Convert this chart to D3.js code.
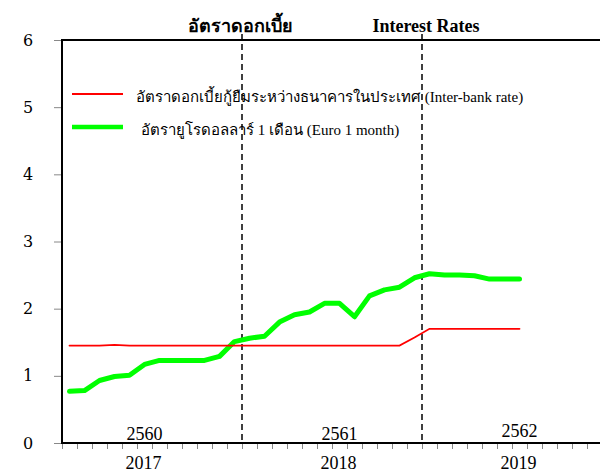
<!DOCTYPE html>
<html>
<head>
	<meta charset="utf-8">
	<title></title>
	<script src="https://d3js.org/d3.v7.min.js" charset="utf-8"></script>
	<style type="text/css">
		body { margin: 0; background: white; }
		svg text { font-family: 'Liberation Serif', 'Times New Roman', serif; fill: black; }
	</style>
</head>
<body>
	<script type="text/javascript">
		var w = 600;
		var h = 476;

		// monthly, Jan 2017 .. Jul 2019
		var months = d3.range(31).map(function (i) {
			return (2017 + Math.floor(i / 12)) + '-' + String(i % 12 + 1).padStart(2, '0');
		});
		var interbank = [1.45, 1.45, 1.45, 1.46, 1.45, 1.45, 1.45, 1.45, 1.45, 1.45, 1.45, 1.45,
			1.45, 1.45, 1.45, 1.45, 1.45, 1.45, 1.45, 1.45, 1.45, 1.45, 1.45, 1.57,
			1.70, 1.70, 1.70, 1.70, 1.70, 1.70, 1.70];
		var euro1m = [0.77, 0.78, 0.93, 0.99, 1.01, 1.17, 1.23, 1.23, 1.23, 1.23, 1.29, 1.51,
			1.56, 1.59, 1.80, 1.91, 1.95, 2.08, 2.08, 1.88, 2.19, 2.28, 2.32, 2.46,
			2.52, 2.50, 2.50, 2.49, 2.44, 2.44, 2.44];
		var yTicks = [0, 1, 2, 3, 4, 5, 6];
		var ceYears = ['2017', '2018', '2019'];
		var beYears = ['2560', '2561', '2562'];
		var yearLabelMonth = [5, 18, 30];
		var yearBreaks = [12, 24];
		var legendNames = ['อัตราดอกเบี้ยกู้ยืมระหว่างธนาคารในประเทศ (Inter-bank rate)',
			'อัตรายูโรดอลลาร์ 1 เดือน (Euro 1 month)'];

		var x = d3.scaleLinear().domain([0, 36]).range([62, 602]);
		var y = d3.scaleLinear().domain([0, 6]).range([443, 40]);

		var svg = d3.select('body')
			.append('svg')
			.attr('width', w)
			.attr('height', h);

		// title
		svg.append('text')
			.text('อัตราดอกเบี้ย')
			.attr('x', 240).attr('y', 32)
			.attr('text-anchor', 'middle')
			.style('font-size', '18px').style('font-weight', 'bold');
		svg.append('text')
			.text('Interest Rates')
			.attr('x', 426).attr('y', 32)
			.attr('text-anchor', 'middle')
			.style('font-size', '18px').style('font-weight', 'bold');

		// y axis
		var yAxis = svg.append('g')
			.attr('transform', 'translate(' + x(0) + ',0)')
			.attr('font-family', null)
			.call(d3.axisLeft(y).tickValues(yTicks).tickSize(8).tickPadding(26).tickFormat(d3.format('d')));
		yAxis.select('.domain').remove();
		yAxis.selectAll('.tick line').attr('stroke', '#888');
		yAxis.attr('font-family', 'DejaVu Serif').attr('font-size', 16);
		yAxis.selectAll('text')
			.style('font-family', 'DejaVu Serif')
			.style('font-size', '16px')
			.attr('text-anchor', 'middle');

		// x axis, monthly ticks
		var xAxis = svg.append('g')
			.attr('transform', 'translate(0,' + y(0) + ')')
			.call(d3.axisBottom(x).tickValues(d3.range(0, 37)).tickSize(6).tickFormat(''));
		xAxis.select('.domain').remove();
		xAxis.selectAll('.tick line').attr('stroke', '#888');

		// frame
		svg.append('path')
			.attr('d', 'M' + x(36) + ',' + y(6) + 'H' + x(0) + 'V' + y(0) + 'H' + x(36))
			.attr('fill', 'none')
			.attr('stroke', 'black')
			.attr('stroke-width', 2);

		// year break lines
		svg.append('g')
			.selectAll('line')
			.data(yearBreaks)
			.enter()
			.append('line')
			.attr('x1', function (d) { return x(d); })
			.attr('x2', function (d) { return x(d); })
			.attr('y1', 34)
			.attr('y2', y(0))
			.attr('stroke', 'black')
			.attr('stroke-width', 1.5)
			.attr('stroke-dasharray', '6,4');

		// year labels
		svg.append('g')
			.selectAll('text')
			.data(beYears)
			.enter()
			.append('text')
			.text(function (d) { return d; })
			.attr('x', function (d, i) { return x(yearLabelMonth[i] + 0.5); })
			.attr('y', function (d, i) { return i == 2 ? 437 : 440; })
			.attr('text-anchor', 'middle')
			.style('font-size', '18px');
		svg.append('g')
			.selectAll('text')
			.data(ceYears)
			.enter()
			.append('text')
			.text(function (d) { return d; })
			.attr('x', function (d, i) { return x(yearLabelMonth[i] + 0.5) - 1; })
			.attr('y', 469)
			.attr('text-anchor', 'middle')
			.style('font-size', '18px');

		// lines
		var line = function (vals) {
			return d3.line()
				.x(function (d, i) { return x(i + 0.5); })
				.y(function (d) { return y(d); })(vals);
		};
		svg.append('path')
			.attr('d', line(euro1m))
			.attr('fill', 'none')
			.attr('stroke', '#00ff00')
			.attr('stroke-width', 5)
			.attr('stroke-linejoin', 'round')
			.attr('stroke-linecap', 'round');
		svg.append('path')
			.attr('d', line(interbank))
			.attr('fill', 'none')
			.attr('stroke', '#ff0000')
			.attr('stroke-width', 1.8)
			.attr('stroke-linecap', 'round');

		// legend
		var legend = svg.append('g')
			.selectAll('g')
			.data(legendNames)
			.enter()
			.append('g')
			.attr('transform', function (d, i) { return 'translate(72,' + (i == 0 ? 94 : 127) + ')'; });
		legend.append('line')
			.attr('x1', 0).attr('x2', 51)
			.attr('stroke', function (d, i) { return i == 0 ? '#ff0000' : '#00ff00'; })
			.attr('stroke-width', function (d, i) { return i == 0 ? 2 : 4.5; });
		legend.append('text')
			.text(function (d) { return d; })
			.attr('x', function (d, i) { return i == 0 ? 64 : 69; })
			.attr('y', 8)
			.style('font-size', '15px');
	</script>
</body>
</html>
